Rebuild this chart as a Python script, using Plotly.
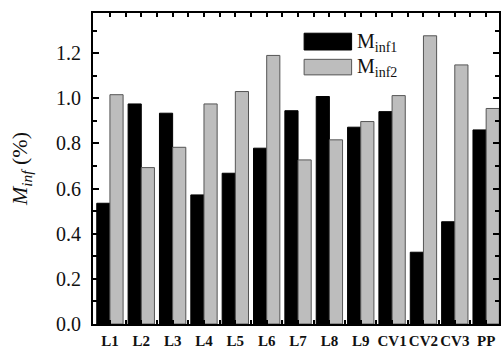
import plotly.graph_objects as go

categories = ["L1", "L2", "L3", "L4", "L5", "L6", "L7", "L8", "L9", "CV1", "CV2", "CV3", "PP"]
m_inf1 = [0.535, 0.975, 0.934, 0.572, 0.668, 0.779, 0.945, 1.008, 0.872, 0.941, 0.318, 0.453, 0.860]
m_inf2 = [1.016, 0.693, 0.783, 0.975, 1.030, 1.190, 0.727, 0.816, 0.897, 1.012, 1.277, 1.148, 0.955]
y_ticks = [0.0, 0.2, 0.4, 0.6, 0.8, 1.0, 1.2]

idx = list(range(len(categories)))
FONT = "Liberation Serif"

fig = go.Figure()
fig.add_trace(go.Bar(x=idx, y=m_inf1, name="M<sub>inf1</sub>",
                     marker=dict(color="#000000", line=dict(color="#000000", width=1))))
fig.add_trace(go.Bar(x=idx, y=m_inf2, name="M<sub>inf2</sub>",
                     marker=dict(color="#bdbdbd", line=dict(color="#555555", width=1))))

fig.update_layout(
    width=501, height=349,
    margin=dict(l=93, r=0, t=13, b=25),
    paper_bgcolor="white", plot_bgcolor="white",
    barmode="group", bargap=0.16, bargroupgap=0,
    showlegend=False,
    font=dict(family=FONT, color="#111111"),
)

fig.update_xaxes(
    range=[-0.54, 12.41],
    tickmode="array", tickvals=idx, ticktext=categories,
    tickfont=dict(family=FONT, size=15, color="#111111", weight="bold"),
    ticks="inside", ticklen=4, tickwidth=1.5, tickcolor="black",
    minor=dict(tickmode="array", tickvals=[i + 0.5 for i in idx], ticks="inside",
               ticklen=4, tickwidth=1.5, tickcolor="black"),
    showline=True, linewidth=2, linecolor="black", mirror="allticks",
    showgrid=False, zeroline=False, ticklabeloverflow="allow",
    ticklabelstandoff=2,
)

fig.update_yaxes(
    range=[0, 1.378],
    tickmode="array", tickvals=y_ticks, tickformat=".1f",
    tickfont=dict(family=FONT, size=20, color="#111111"),
    ticks="inside", ticklen=6, tickwidth=1.5, tickcolor="black",
    minor=dict(dtick=0.1, ticks="inside", ticklen=4, tickwidth=1.5, tickcolor="black"),
    showline=True, linewidth=2, linecolor="black", mirror="allticks",
    showgrid=False, zeroline=False, ticklabelstandoff=6,
    title=dict(text="<i>M<sub>inf</sub></i> (%)", font=dict(family=FONT, size=22, color="#111111"),
               standoff=22),
)

# legend drawn manually to match the large swatches
fig.add_shape(type="rect", xref="paper", yref="paper", x0=0.52, x1=0.637, y0=0.881, y1=0.935,
              fillcolor="#000000", line=dict(color="#000000", width=1))
fig.add_shape(type="rect", xref="paper", yref="paper", x0=0.52, x1=0.637, y0=0.801, y1=0.851,
              fillcolor="#bdbdbd", line=dict(color="#555555", width=1))
fig.add_annotation(xref="paper", yref="paper", x=0.645, y=0.905, xanchor="left", yanchor="middle",
                   text="M<sub>inf1</sub>", showarrow=False, font=dict(family=FONT, size=20, color="#111111"))
fig.add_annotation(xref="paper", yref="paper", x=0.645, y=0.825, xanchor="left", yanchor="middle",
                   text="M<sub>inf2</sub>", showarrow=False, font=dict(family=FONT, size=20, color="#111111"))

fig.write_html("out.html")
